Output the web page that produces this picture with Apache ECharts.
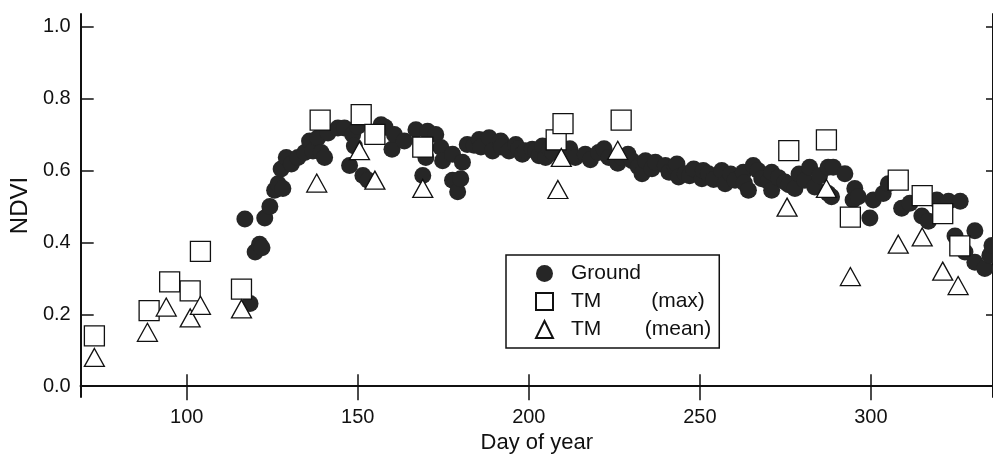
<!DOCTYPE html>
<html>
<head>
<meta charset="utf-8">
<script src="https://cdn.jsdelivr.net/npm/echarts@6/dist/echarts.min.js"></script>
<style>html,body{margin:0;padding:0;background:#fff}#c{width:993px;height:459px}</style>
</head>
<body>
<div id="c"></div>
<script>
const xTicks = [100, 150, 200, 250, 300];
const yTicks = [0, 0.2, 0.4, 0.6, 0.8, 1.0];

const groundDay = [117,118.5,120,121.3,122,122.8,124.3,125.7,126.7,127.6,128.1,129.1,130.6,132.5,134.5,135.9,136.9,138.3,139.3,140.3,141.3,144.2,146.1,147.6,148.5,149,150,151.5,153,156.8,158,160,160.7,163.6,167,169,169.9,170.4,172.8,174.3,174.8,177.7,177.7,179.2,180.1,180.6,182,184,185.5,186,188.4,189.4,191.8,192,194.2,196.2,197,198.1,199,201,202,203,204,204.9,206,207,210.7,212,213.6,216.5,218,220.4,222,223.4,226,227.3,229,230.2,232,233.1,234.1,236,237,239.9,241,242.8,243.3,243.8,245.7,247,248.2,250.6,251,252.5,254,256.4,257.4,259,260.3,262.7,263,264.2,265.6,267,268.1,270,271,271,273,274.9,276,277.8,279,280.7,282.1,283.6,285,287.5,287.5,288.5,289,292.4,294.8,295.3,296.3,299.7,300.7,303.6,305.1,309,311.4,314.9,316.8,319.3,322.7,324.6,326.1,327.5,330.4,330.4,333.3,334.8,335.4];
const groundNdvi = [0.465,0.23,0.373,0.395,0.385,0.468,0.50,0.545,0.563,0.604,0.55,0.636,0.618,0.636,0.65,0.682,0.654,0.69,0.65,0.636,0.704,0.718,0.718,0.614,0.70,0.668,0.723,0.586,0.573,0.727,0.72,0.659,0.70,0.682,0.713,0.586,0.636,0.709,0.70,0.664,0.627,0.645,0.573,0.541,0.577,0.623,0.672,0.67,0.686,0.665,0.691,0.654,0.682,0.665,0.654,0.672,0.66,0.645,0.655,0.659,0.654,0.641,0.668,0.636,0.66,0.65,0.645,0.66,0.636,0.645,0.63,0.65,0.66,0.636,0.62,0.636,0.645,0.627,0.61,0.591,0.627,0.605,0.623,0.614,0.595,0.609,0.618,0.582,0.591,0.585,0.604,0.577,0.60,0.591,0.575,0.60,0.563,0.59,0.573,0.595,0.565,0.545,0.614,0.60,0.577,0.57,0.595,0.545,0.58,0.568,0.56,0.55,0.59,0.573,0.609,0.554,0.585,0.609,0.536,0.527,0.609,0.591,0.518,0.55,0.527,0.468,0.518,0.536,0.563,0.495,0.509,0.473,0.459,0.518,0.514,0.418,0.514,0.373,0.432,0.345,0.327,0.364,0.391];

const tmMaxDay  = [73,89,95,101,104,116,139,151,155,169,208,210,227,276,287,294,308,315,321,326];
const tmMaxNdvi = [0.14,0.21,0.29,0.265,0.375,0.27,0.74,0.755,0.70,0.665,0.685,0.73,0.74,0.655,0.685,0.47,0.573,0.53,0.48,0.39];

const tmMeanDay  = [73,88.5,94,101,104,116,138,150.5,155,169,208.5,209.5,226,275.5,287,294,308,315,321,325.5];
const tmMeanNdvi = [0.08,0.15,0.22,0.19,0.225,0.215,0.565,0.655,0.573,0.55,0.547,0.636,0.656,0.498,0.55,0.305,0.395,0.415,0.32,0.28];

const zip = (a, b) => a.map((v, i) => [v, b[i]]);
const FONT = '"Liberation Sans", Arial, sans-serif';
const INK = '#111';

const chart = echarts.init(document.getElementById('c'), null, {renderer: 'canvas'});
const axisLine = {show: true, lineStyle: {color: INK, width: 2}};
chart.setOption({
  animation: false,
  backgroundColor: '#fff',
  grid: {left: 77, right: 0, top: 14, bottom: 55, containLabel: false},
  xAxis: [{
    type: 'value', min: 69, max: 335.7, position: 'bottom',
    name: 'Day of year', nameLocation: 'middle', nameGap: 35,
    nameTextStyle: {fontFamily: FONT, fontSize: 22, color: INK},
    axisLine: axisLine,
    axisTick: {inside: true, length: 12, customValues: xTicks, lineStyle: {color: INK, width: 1.5}},
    axisLabel: {customValues: xTicks, fontFamily: FONT, fontSize: 20, color: INK, margin: 10},
    splitLine: {show: false}
  }, {
    type: 'value', min: 69, max: 335.7, position: 'top',
    axisLine: axisLine,
    axisTick: {inside: true, length: 14, customValues: xTicks, lineStyle: {color: INK, width: 1.5}},
    axisLabel: {show: false},
    splitLine: {show: false}
  }],
  yAxis: [{
    type: 'value', min: -0.03, max: 1.035, position: 'left',
    name: 'NDVI', nameLocation: 'middle', nameGap: 42, nameRotate: 90,
    nameTextStyle: {fontFamily: FONT, fontSize: 24, color: INK},
    axisLine: axisLine,
    axisTick: {inside: true, length: 13, customValues: yTicks, lineStyle: {color: INK, width: 1.5}},
    axisLabel: {customValues: yTicks, formatter: v => v.toFixed(1), fontFamily: FONT, fontSize: 20, color: INK, margin: 10},
    splitLine: {show: false}
  }, {
    type: 'value', min: -0.03, max: 1.035, position: 'right',
    axisLine: axisLine,
    axisTick: {inside: true, length: 7, customValues: yTicks, lineStyle: {color: INK, width: 1.5}},
    axisLabel: {show: false},
    splitLine: {show: false}
  }],
  legend: {
    left: 506, top: 255, orient: 'vertical',
    padding: [8, 8, 8, 29], itemGap: 7, itemWidth: 17, itemHeight: 17,
    borderColor: INK, borderWidth: 1.5, backgroundColor: '#fff',
    textStyle: {fontFamily: FONT, fontSize: 21, color: INK,
      rich: {a: {fontFamily: FONT, fontSize: 21, color: INK, width: 62, padding: [0, 0, 0, 13]},
             b: {fontFamily: FONT, fontSize: 21, color: INK, width: 90, align: 'center'}}},
    formatter: n => n === 'Ground' ? '{a|Ground}' : (n === 'TM (max)' ? '{a|TM}{b|(max)}' : '{a|TM}{b|(mean)}'),
    data: [
      {name: 'Ground', icon: 'circle'},
      {name: 'TM (max)', icon: 'rect'},
      {name: 'TM (mean)', icon: 'triangle'}
    ]
  },
  series: [{
    name: 'Ground', type: 'scatter', symbol: 'circle', symbolSize: 17,
    itemStyle: {color: '#262626', opacity: 1},
    data: zip(groundDay, groundNdvi), z: 2
  }, {
    name: 'TM (max)', type: 'scatter', symbol: 'rect', symbolSize: 20,
    itemStyle: {color: '#fff', borderColor: INK, borderWidth: 1.3, opacity: 1},
    data: zip(tmMaxDay, tmMaxNdvi), z: 3
  }, {
    name: 'TM (mean)', type: 'scatter', symbol: 'triangle', symbolSize: [20, 18],
    itemStyle: {color: '#fff', borderColor: INK, borderWidth: 1.3, opacity: 1},
    data: zip(tmMeanDay, tmMeanNdvi), z: 4
  }]
});
</script>
</body>
</html>
